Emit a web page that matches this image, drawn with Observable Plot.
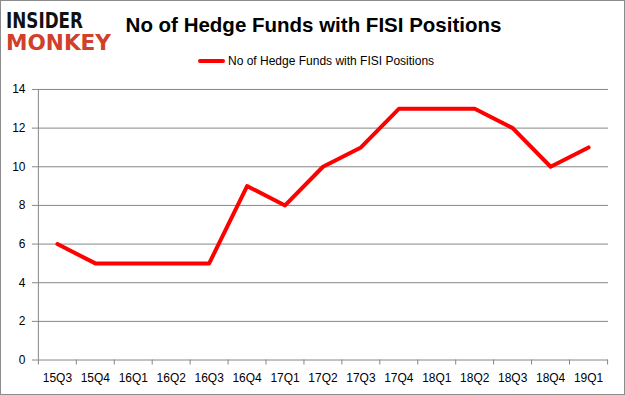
<!DOCTYPE html>
<html><head><meta charset="utf-8">
<script src="https://cdn.jsdelivr.net/npm/d3@7"></script>
<script src="https://cdn.jsdelivr.net/npm/@observablehq/plot@0.6"></script>
<style>
html,body{margin:0;padding:0;background:#fff;}
#frame{position:relative;width:623px;height:393px;border:1px solid #8c8c8c;overflow:hidden;background:#fff;}
#logo{position:absolute;left:4px;top:4px;}
#title{position:absolute;left:0;width:625px;top:12px;text-align:center;font-family:"Liberation Sans",Arial,sans-serif;font-weight:bold;font-size:20.5px;color:#000;}
#legend{position:absolute;left:197px;top:53px;font-family:"Liberation Sans",Arial,sans-serif;font-size:12px;color:#000;display:flex;align-items:center;}
#legend .sw{width:27px;height:4px;background:#ff0000;border-radius:2px;margin-right:3px;}
#chart{position:absolute;left:-1px;top:69px;}
</style></head>
<body>
<div id="frame">
  <svg id="logo" width="112" height="56">
    <text x="1" y="23" font-family="DejaVu Sans" font-weight="bold" font-size="21" fill="#111" textLength="77" lengthAdjust="spacingAndGlyphs">INSIDER</text>
    <text x="1" y="45" font-family="DejaVu Sans" font-weight="bold" font-size="21" fill="#d0402a" textLength="105" lengthAdjust="spacingAndGlyphs">MONKEY</text>
  </svg>
  <div id="title">No of Hedge Funds with FISI Positions</div>
  <div id="legend"><div class="sw"></div><span>No of Hedge Funds with FISI Positions</span></div>
  <div id="chart"></div>
</div>
<script>
const quarters = ["15Q3","15Q4","16Q1","16Q2","16Q3","16Q4","17Q1","17Q2","17Q3","17Q4","18Q1","18Q2","18Q3","18Q4","19Q1"];
const funds = [6,5,5,5,5,9,8,10,11,13,13,13,12,10,11];
const yTicks = [0,2,4,6,8,10,12,14];

const data = quarters.map((q,i)=>({q, v: funds[i]}));
const W = 625, H = 326, mL = 37, mR = 16, mT = 19, mB = 36;
const bw = (W - mL - mR) / quarters.length;
const plotH = H - mT - mB;

const chart = Plot.plot({
  width: W, height: H,
  marginLeft: mL, marginRight: mR, marginTop: mT, marginBottom: mB,
  style: {fontFamily: "Liberation Sans, Arial, sans-serif", fontSize: "12px", color: "#000", background: "transparent"},
  x: {type: "point", domain: quarters, padding: 0.5, label: null, tickSize: 0, tickPadding: 13},
  y: {domain: [0, 14], ticks: yTicks, label: null, tickSize: 5, tickPadding: 7, tickFormat: d => d},
  marks: [
    Plot.ruleY(yTicks, {stroke: "#868686", strokeWidth: 1}),
    Plot.ruleX([quarters[0]], {stroke: "#868686", dx: -bw/2}),
    Plot.ruleX(quarters, {stroke: "#868686", dx: -bw/2, insetTop: plotH, insetBottom: -5}),
    Plot.ruleX([quarters[quarters.length-1]], {stroke: "#868686", dx: bw/2, insetTop: plotH, insetBottom: -5}),
    Plot.line(data, {x: "q", y: "v", stroke: "#ff0000", strokeWidth: 4, strokeLinejoin: "round", strokeLinecap: "round"})
  ]
});
chart.querySelectorAll('[aria-label="y-axis tick"] path, [aria-label="y-axis tick"]').forEach(e=>e.setAttribute("stroke","#868686"));
document.getElementById("chart").appendChild(chart);
</script>
</body></html>
